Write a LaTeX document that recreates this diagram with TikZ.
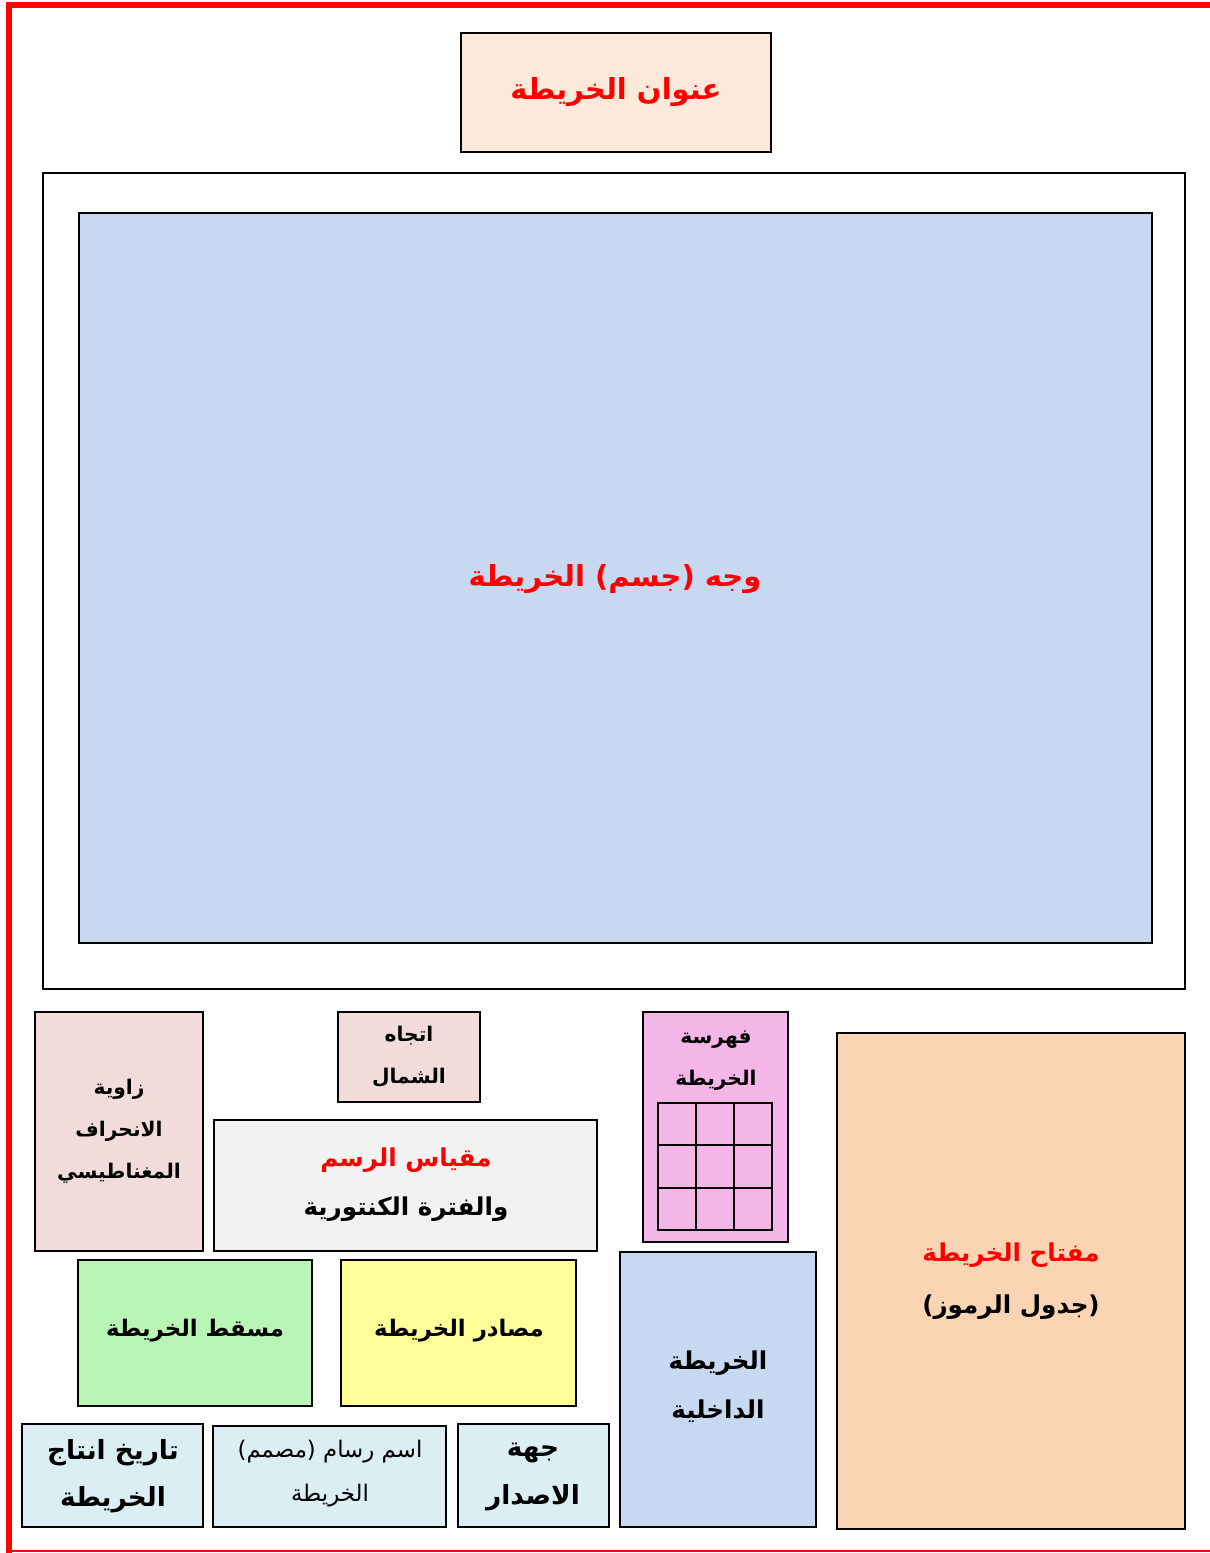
\documentclass[tikz,border=0pt]{standalone}
\usepackage{fontspec}
\newfontfamily\arabicfont[Script=Arabic]{DejaVu Sans}
\TeXXeTstate=1
\definecolor{titlefill}{HTML}{FCE9DA}
\definecolor{facefill}{HTML}{C6D9F0}
\definecolor{declfill}{HTML}{F2DCDB}
\definecolor{scalefill}{HTML}{F2F2F2}
\definecolor{indexfill}{HTML}{F4B6E7}
\definecolor{legendfill}{HTML}{FBD4B4}
\definecolor{projfill}{HTML}{B9F5B5}
\definecolor{srcfill}{HTML}{FFFF99}
\definecolor{infofill}{HTML}{DAEEF3}
\begin{document}
\begin{tikzpicture}[x=0.02cm, y=-0.02cm,
    part/.style={draw=black, line width=1pt},
    txt/.style={font=\arabicfont\bfseries\fontsize{14}{28}\selectfont, align=center},
    smalltxt/.style={txt, font=\arabicfont\bfseries\fontsize{11.5}{24}\selectfont},
    bigtxt/.style={txt, font=\arabicfont\bfseries\fontsize{16.5}{30}\selectfont, text=red}]
        \useasboundingbox (0,0) rectangle (1210,1553);

        % page frame
        \draw[red, line width=3pt] (9,1553) -- (9,5) -- (1215,5);
        \draw[red, line width=0.8pt] (9,1551) -- (1215,1551);

        % title and map face
        \draw[part, fill=titlefill] (461,33) rectangle (771,152);
        \node[bigtxt] (title) at (616,92) {\beginR عنوان الخريطة\endR};
        \draw[part, line width=0.8pt] (43,173) rectangle (1185,989);
        \draw[part, fill=facefill, line width=1.6pt] (79,213) rectangle (1152,943);
        \node[bigtxt] (face) at (615,579) {\beginR وجه (جسم) الخريطة\endR};

        % upper row of the margin
        \draw[part, fill=declfill] (35,1012) rectangle (203,1251);
        \node[smalltxt] (decl) at (119,1131) {\beginR زاوية\endR\\\beginR الانحراف\endR\\\beginR المغناطيسي\endR};
        \draw[part, fill=declfill] (338,1012) rectangle (480,1102);
        \node[smalltxt] (north) at (409,1057) {\beginR اتجاه\endR\\\beginR الشمال\endR};
        \draw[part, fill=scalefill] (214,1120) rectangle (597,1251);
        \node[txt] (scale) at (406,1185) {\textcolor{red}{\beginR مقياس الرسم\endR}\\\beginR والفترة الكنتورية\endR};

        % map index
        \draw[part, fill=indexfill] (643,1012) rectangle (788,1242);
        \node[smalltxt] (index) at (716,1061) {\beginR فهرسة\endR\\\beginR الخريطة\endR};
        \draw[part] (658,1103) rectangle (772,1230);
        \draw[part] (696,1103) -- (696,1230);
        \draw[part] (734,1103) -- (734,1230);
        \draw[part] (658,1145) -- (772,1145);
        \draw[part] (658,1188) -- (772,1188);

        % inset map and legend
        \draw[part, fill=facefill] (620,1252) rectangle (816,1527);
        \node[txt] (inset) at (718,1387) {\beginR الخريطة\endR\\\beginR الداخلية\endR};
        \draw[part, fill=legendfill] (837,1033) rectangle (1185,1529);
        \node[txt, font=\arabicfont\bfseries\fontsize{14}{30}\selectfont] (legend) at (1011,1281) {\textcolor{red}{\beginR مفتاح الخريطة\endR}\\\beginR (جدول الرموز)\endR};

        % lower rows of the margin
        \draw[part, fill=projfill] (78,1260) rectangle (312,1406);
        \node[txt, font=\arabicfont\bfseries\fontsize{13}{26}\selectfont] (proj) at (195,1331) {\beginR مسقط الخريطة\endR};
        \draw[part, fill=srcfill] (341,1260) rectangle (576,1406);
        \node[txt, font=\arabicfont\bfseries\fontsize{13}{26}\selectfont] (src) at (459,1331) {\beginR مصادر الخريطة\endR};
        \draw[part, fill=infofill] (22,1424) rectangle (203,1527);
        \node[txt, font=\arabicfont\bfseries\fontsize{15}{27}\selectfont] (date) at (113,1476) {\beginR تاريخ انتاج\endR\\\beginR الخريطة\endR};
        \draw[part, fill=infofill] (213,1426) rectangle (446,1527);
        \node[txt, font=\arabicfont\fontsize{13}{25}\selectfont] (designer) at (330,1474) {\beginR اسم رسام (مصمم)\endR\\\beginR الخريطة\endR};
        \draw[part, fill=infofill] (458,1424) rectangle (609,1527);
        \node[txt, font=\arabicfont\bfseries\fontsize{15}{27}\selectfont] (issuer) at (533,1477) {\beginR جهة\endR\\\beginR الاصدار\endR};
    \end{tikzpicture}
\end{document}
